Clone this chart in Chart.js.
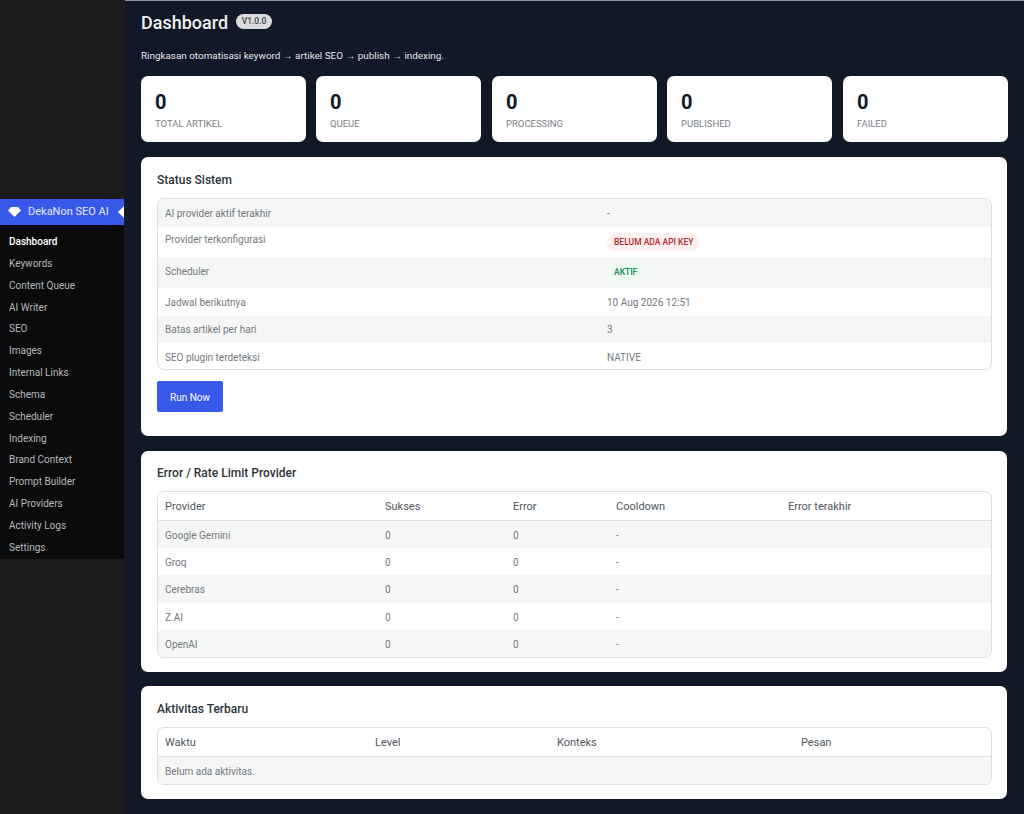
<!DOCTYPE html>
<html lang="id">
<head>
<meta charset="utf-8">
<title>Dashboard</title>
<script src="https://cdn.jsdelivr.net/npm/chart.js@4"></script>
<style>
  * { box-sizing: border-box; }
  html, body { margin: 0; height: 100%; overflow: hidden; }
  body { width: 1024px; height: 814px; position: relative; background: #111827; font-family: Roboto, sans-serif; color: #50575e; }
  .topline { position: absolute; left: 0; top: 0; width: 1024px; height: 1px; background: #8c8f94; }
  .side { position: absolute; left: 0; top: 0; width: 125px; height: 814px; background: #1c1c1c; }
  .menu { position: absolute; left: 0; top: 199px; width: 124px; height: 360px; background: #0b0b0c; }
  .brand { height: 26px; background: #3858e9; color: #e8ecff; font-size: 11px; line-height: 26px; padding-left: 28px; position: relative; }
  .brand svg { position: absolute; left: 8px; top: 8px; }
  .brand:after { content: ""; position: absolute; right: 0; top: 7px; border: 6px solid transparent; border-right-color: #fff; border-left: 0; }
  .menu a { display: block; height: 21.85px; line-height: 21.85px; padding-left: 9px; font-size: 10px; color: #b4b9be; }
  .menu a:first-of-type { margin-top: 6px; }
  .menu a.on { color: #fff; font-weight: 500; }
  h1 { position: absolute; left: 141px; top: 10px; margin: 0; font-size: 18px; line-height: 26px; font-weight: 500; color: #f0f0f1; }
  .ver { position: absolute; left: 236px; top: 14px; width: 36px; height: 15px; border-radius: 8px; background: #dcdcde; color: #3c434a; font-size: 8.5px; line-height: 15px; text-align: center; font-weight: 500; }
  .lead { position: absolute; left: 141px; top: 48px; font-size: 9.9px; line-height: 16px; color: #e6e8eb; }
  .stat { position: absolute; top: 76px; width: 165px; height: 66px; background: #fff; border-radius: 7px; padding: 13px 14px; }
  .stat b { display: block; font-size: 20px; line-height: 26px; color: #111827; font-weight: 700; }
  .stat span { display: block; font-size: 9.5px; line-height: 14px; margin-top: 2px; color: #7b8085; }
  #statChart { position: absolute; left: 141px; top: 76px; width: 866px; height: 66px; pointer-events: none; }
  .panel { position: absolute; left: 141px; width: 866px; background: #fff; border-radius: 7px; }
  .panel h2 { position: absolute; left: 16px; top: 14px; margin: 0; font-size: 12px; line-height: 18px; font-weight: 500; color: #2c3338; }
  .tbl { position: absolute; left: 16px; width: 835px; border: 1px solid #dcdfe2; border-radius: 7px; overflow: hidden; }
  .row { position: relative; font-size: 10px; color: #74797e; }
  .row.odd { background: #f5f6f6; }
  .row.head { font-size: 11px; color: #50575e; border-bottom: 1px solid #dcdfe2; }
  .row span { position: absolute; top: 0; white-space: nowrap; }
  .pill { position: absolute; height: 18px; line-height: 18px; border-radius: 9px; padding: 0 7px; font-size: 8.5px; font-weight: 500; }
  .btn { position: absolute; left: 16px; top: 224px; width: 66px; height: 31px; line-height: 33px; background: #3858e9; border-radius: 2px; color: #fff; font-size: 10px; text-align: center; }
</style>
</head>
<body>
<div class="topline"></div>
<div class="side"></div>
<div class="menu" id="menu">
  <div class="brand">
    <svg width="13" height="10" viewBox="0 0 13 10"><path fill="#fff" d="M3 0h7l3 3.5L6.5 10 0 3.5z"/></svg>
    DekaNon SEO AI
  </div>
</div>
<h1>Dashboard</h1>
<div class="ver">V1.0.0</div>
<div class="lead">Ringkasan otomatisasi keyword → artikel SEO → publish → indexing.</div>
<div id="stats"></div>
<canvas id="statChart"></canvas>

<div class="panel" style="top:157px;height:279px">
  <h2>Status Sistem</h2>
  <div class="tbl" id="statusTbl" style="top:41px"></div>
  <div class="btn">Run Now</div>
</div>
<div class="panel" style="top:451px;height:221px">
  <h2 style="top:13px">Error / Rate Limit Provider</h2>
  <div class="tbl" id="errorTbl" style="top:40px"></div>
</div>
<div class="panel" style="top:686px;height:113px">
  <h2>Aktivitas Terbaru</h2>
  <div class="tbl" id="logTbl" style="top:41px"></div>
</div>

<script>
  const menuItems = ['Dashboard', 'Keywords', 'Content Queue', 'AI Writer', 'SEO', 'Images', 'Internal Links', 'Schema', 'Scheduler', 'Indexing', 'Brand Context', 'Prompt Builder', 'AI Providers', 'Activity Logs', 'Settings'];

  const statLabels = ['TOTAL ARTIKEL', 'QUEUE', 'PROCESSING', 'PUBLISHED', 'FAILED'];
  const statValues = [0, 0, 0, 0, 0];

  const statusLabels = ['AI provider aktif terakhir', 'Provider terkonfigurasi', 'Scheduler', 'Jadwal berikutnya', 'Batas artikel per hari', 'SEO plugin terdeteksi'];
  const statusValues = ['-', 'BELUM ADA API KEY', 'AKTIF', '10 Aug 2026 12:51', '3', 'NATIVE'];

  const errorHeaders = ['Provider', 'Sukses', 'Error', 'Cooldown', 'Error terakhir'];
  const providers = ['Google Gemini', 'Groq', 'Cerebras', 'Z.AI', 'OpenAI'];
  const providerSukses = [0, 0, 0, 0, 0];
  const providerError = [0, 0, 0, 0, 0];
  const providerCooldown = ['-', '-', '-', '-', '-'];

  const logHeaders = ['Waktu', 'Level', 'Konteks', 'Pesan'];
  const logEmpty = 'Belum ada aktivitas.';

  // layout
  const cardLefts = [141, 316, 492, 667, 843];
  const statusRows = [28, 30, 31, 28, 27, 26];
  const statusText = [29, 25, 29, 29, 28, 29];
  const errorCols = [7, 227, 355, 458, 630];
  const logCols = [7, 217, 399, 643];

  document.getElementById('menu').insertAdjacentHTML('beforeend',
    menuItems.map((m, i) => `<a class="${i === 0 ? 'on' : ''}">${m}</a>`).join(''));

  document.getElementById('stats').innerHTML = statLabels.map((l, i) => `
    <div class="stat" style="left:${cardLefts[i]}px"><b>${statValues[i]}</b><span>${l}</span></div>
  `).join('');

  const cell = (x, text) => `<span style="left:${x}px">${text}</span>`;
  const row = (h, cls, inner, lh) => `<div class="row ${cls}" style="height:${h}px;line-height:${lh}px">${inner}</div>`;

  document.getElementById('statusTbl').innerHTML = statusLabels.map((l, i) => {
    let val = cell(449, statusValues[i]);
    if (i === 1) val = `<span class="pill" style="left:449px;top:6px;background:#fcf0f1;color:#b32d2e">${statusValues[i]}</span>`;
    if (i === 2) val = `<span class="pill" style="left:449px;top:6px;background:#edfaef;color:#0f8a5a">${statusValues[i]}</span>`;
    return row(statusRows[i], i % 2 === 0 ? 'odd' : '', cell(7, l) + val, statusText[i]);
  }).join('');

  document.getElementById('errorTbl').innerHTML =
    row(29, 'head', errorHeaders.map((h, i) => cell(errorCols[i], h)).join(''), 30) +
    providers.map((p, i) => row(27.2, i % 2 === 0 ? 'odd' : '',
      cell(errorCols[0], p) + cell(errorCols[1], providerSukses[i]) + cell(errorCols[2], providerError[i]) + cell(errorCols[3], providerCooldown[i])
    , 30)).join('');

  document.getElementById('logTbl').innerHTML =
    row(29, 'head', logHeaders.map((h, i) => cell(logCols[i], h)).join(''), 30) +
    row(27, 'odd', cell(7, logEmpty), 30);

  // the counters are the only numeric series on the page, all zero so no bar shows
  new Chart(document.getElementById('statChart'), {
    type: 'bar',
    data: {
      labels: statLabels,
      datasets: [{ label: 'Artikel', data: statValues, backgroundColor: '#3858e9' }]
    },
    options: {
      responsive: false,
      animation: false,
      plugins: { legend: { display: false }, tooltip: { enabled: false } },
      scales: { x: { display: false }, y: { display: false, min: 0, max: 10 } }
    }
  });
</script>
</body>
</html>
